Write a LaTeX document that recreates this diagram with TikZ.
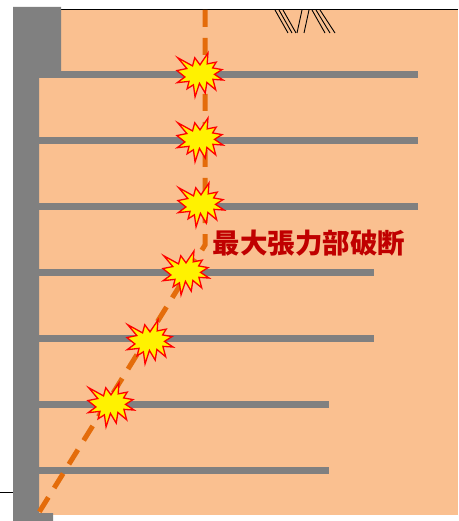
\documentclass[tikz,border=0pt]{standalone}
\usepackage{fontspec}
\newfontfamily\cjk{Noto Sans CJK JP}
\definecolor{soil}{HTML}{FAC090}
\definecolor{wallgray}{HTML}{808080}
\definecolor{slipline}{HTML}{E46C0A}
\definecolor{labelred}{HTML}{C00000}
\tikzset{
  wallpart/.style={fill=wallgray, draw=none},
  anchorbar/.style={fill=wallgray, draw=none},
  slip/.style={draw=slipline, line width=5pt, dash pattern=on 17pt off 11pt},
  hatchline/.style={draw=black, line width=0.9pt},
  burststyle/.style={fill=yellow, draw=red, line width=1.3pt, line join=miter},
  burst/.pic={
    \begin{scope}[x=0.0021296pt, y=-0.0020370pt, shift={(-10800,-10800)}]
      \path[burststyle] (10800,5800) -- (14522,0) -- (14155,5325) -- (18380,4457)
        -- (16702,7315) -- (21097,8137) -- (17607,10475) -- (21600,13290)
        -- (16837,12942) -- (18145,18095) -- (14020,14457) -- (13247,19737)
        -- (10532,14935) -- (8485,21600) -- (7715,15627) -- (4762,17617)
        -- (5667,13937) -- (135,14587) -- (3722,11775) -- (0,8615)
        -- (4627,7617) -- (370,2295) -- (7312,6320) -- (8352,2295) -- cycle;
    \end{scope}
  }
}
\begin{document}
\begin{tikzpicture}[x=1pt, y=-1pt]
  \useasboundingbox (0,0) rectangle (458,521);
  \fill[white] (0,0) rectangle (458,521);

  % retained soil
  \fill[soil] (39,9) rectangle (458,515);
  \draw[black, line width=0.9pt] (60,9) -- (458,9);

  % ground line in front of the wall
  \draw[black, line width=0.8pt] (0,492) -- (13,492);

  % surface marking
  \draw[hatchline] (275,10) -- (288,33);
  \draw[hatchline] (279,10) -- (292,33);
  \draw[hatchline] (283,10) -- (296,33);
  \draw[hatchline] (297,33) -- (302,10);
  \draw[hatchline] (304,33) -- (309,10);
  \draw[hatchline] (312,10) -- (325,33);
  \draw[hatchline] (316,10) -- (330,33);
  \draw[hatchline] (320,10) -- (335,33);

  % ground anchors
  \fill[anchorbar] (39,71) rectangle (418,78);
  \fill[anchorbar] (39,137) rectangle (418,144);
  \fill[anchorbar] (39,203) rectangle (418,210);
  \fill[anchorbar] (39,269) rectangle (374,276);
  \fill[anchorbar] (39,335) rectangle (374,342);
  \fill[anchorbar] (39,401) rectangle (329,408);
  \fill[anchorbar] (39,467) rectangle (329,474);

  % retaining wall
  \path[wallpart] (13,7) -- (61,7) -- (61,71) -- (39,71) -- (39,513)
    -- (53,513) -- (53,521) -- (13,521) -- cycle;

  % failure line
  \coordinate (top) at (205,10);
  \coordinate (bend) at (205,245);
  \coordinate (toe) at (38,514);
  \draw[slip] (top) -- (bend) -- (toe);

  % ruptured anchors
  \pic (b1) at (200,75) {burst};
  \pic (b2) at (200,140) {burst};
  \pic (b3) at (201,205) {burst};
  \pic (b4) at (186,273) {burst};
  \pic (b5) at (150,342) {burst};
  \pic (b6) at (111,405) {burst};

  \node[text=labelred, font=\cjk\bfseries\fontsize{27.5}{30}\selectfont, inner sep=0pt]
    (label) at (309,243) {最大張力部破断};
\end{tikzpicture}
\end{document}
